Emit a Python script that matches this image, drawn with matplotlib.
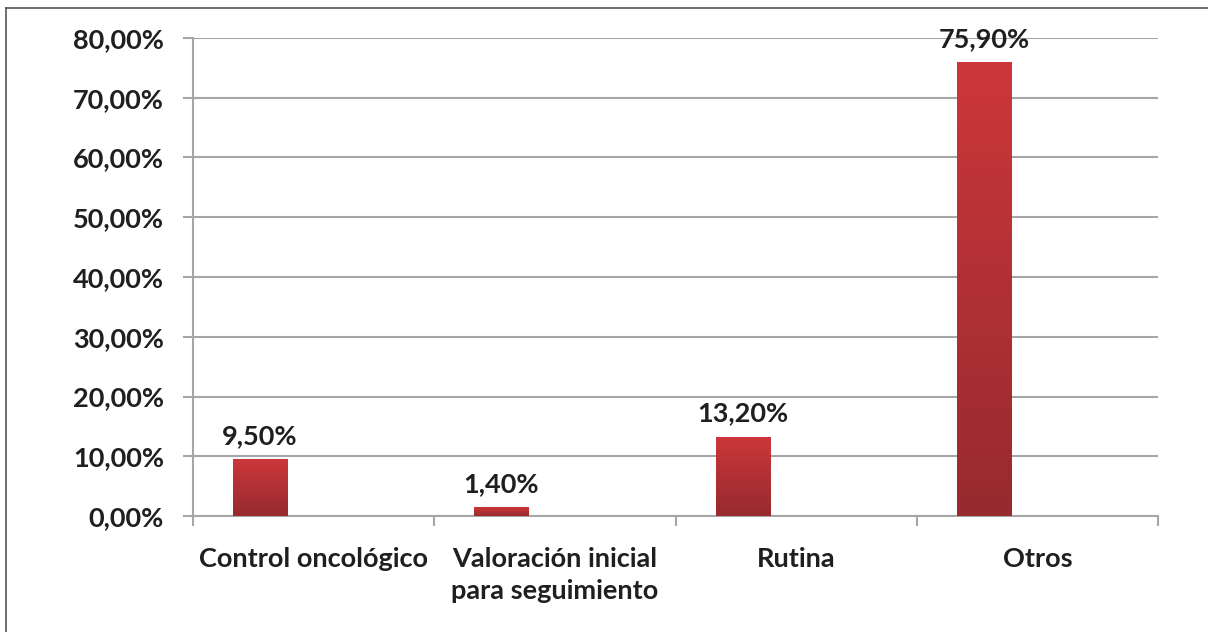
import matplotlib
matplotlib.use("Agg")
import matplotlib.pyplot as plt
import numpy as np
from matplotlib.colors import LinearSegmentedColormap
from matplotlib.lines import Line2D

# data
categories = ["Control oncológico", "Valoración inicial\npara seguimiento", "Rutina", "Otros"]
values = [9.5, 1.4, 13.2, 75.9]
y_ticks = [0, 10, 20, 30, 40, 50, 60, 70, 80]

plt.rcParams.update({
    "font.family": ["Lato", "DejaVu Sans"],
    "font.size": 19.5,
    "font.weight": "bold",
})

GRID = "#a6a6a6"
TEXT = "#1f1f1f"
bar_cmap = LinearSegmentedColormap.from_list("bar", ["#962a2e", "#cc373b"])

fig = plt.figure(figsize=(12.08, 6.32), dpi=100)
ax = fig.add_axes([0.1598, 0.1835, 0.7988, 0.7564])

x = np.arange(len(categories))
offset, width = -0.222, 0.224
bars = ax.bar(x + offset, values, width, color="none", zorder=3)

# vertical gradient fill per bar, like the Excel default
grad = np.linspace(0, 1, 256).reshape(-1, 1)
for b in bars:
    x0, w, h = b.get_x(), b.get_width(), b.get_height()
    ax.imshow(grad, cmap=bar_cmap, origin="lower", aspect="auto",
              extent=(x0, x0 + w, 0, h), zorder=3)

for xi, v in zip(x, values):
    label = f"{v:.2f}".replace(".", ",") + "%"
    ax.annotate(label, (xi + offset, v), xytext=(0, 17), textcoords="offset points",
                ha="center", va="center", color=TEXT, zorder=4)

ax.set_xlim(-0.5, len(categories) - 0.5)
ax.set_ylim(0, 80)
ax.set_yticks(y_ticks)
ax.set_yticklabels([f"{t:.2f}".replace(".", ",") + "%" for t in y_ticks], color=TEXT)
ax.yaxis.grid(True, color=GRID, linewidth=1.5, zorder=0)
ax.set_axisbelow(True)

ax.set_xticks(x)
ax.set_xticklabels(categories, color=TEXT, linespacing=1.4)
ax.set_xticks(np.arange(-0.5, len(categories)), minor=True)
ax.tick_params(axis="x", which="major", length=0, pad=22)
ax.tick_params(axis="x", which="minor", length=7, width=1.5, color=GRID)
ax.tick_params(axis="y", length=7, width=1.5, color=GRID, pad=14)

for side in ["top", "right"]:
    ax.spines[side].set_visible(False)
for side in ["left", "bottom"]:
    ax.spines[side].set_color(GRID)
    ax.spines[side].set_linewidth(1.5)

# thin outer frame (left and top edges visible in the original)
fig.add_artist(Line2D([6 / 1208, 6 / 1208], [0, 1 - 8 / 632], transform=fig.transFigure,
                      color="#555555", linewidth=1.2))
fig.add_artist(Line2D([6 / 1208, 1], [1 - 8 / 632, 1 - 8 / 632], transform=fig.transFigure,
                      color="#555555", linewidth=1.2))

fig.savefig("out.png", dpi=100)
